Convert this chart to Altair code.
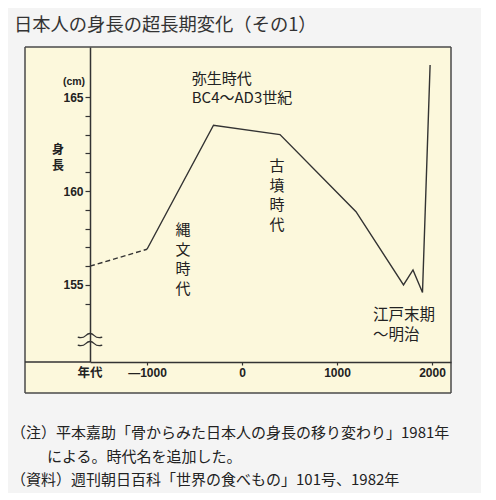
import altair as alt
import pandas as pd

# ---- data ----
years = [-1600, -1000, -300, 400, 1200, 1700, 1800, 1900, 1980]
heights = [156.0, 156.9, 163.5, 163.0, 158.9, 155.0, 155.8, 154.6, 166.7]
dashed_count = 2  # first segment (estimated part) is dashed

x_ticks = [-1000, 0, 1000, 2000]
y_ticks = list(range(154, 166))

title_text = "日本人の身長の超長期変化（その1）"
y_unit = "(cm)"
y_title = "身\n長"
x_title = "年代"
era_yayoi = "弥生時代\nBC4〜AD3世紀"
era_kofun = "古\n墳\n時\n代"
era_jomon = "縄\n文\n時\n代"
era_edo = "江戸末期\n〜明治"
note_lines = [
    "（注）平本嘉助「骨からみた日本人の身長の移り変わり」1981年",
    "による。時代名を追加した。",
    "（資料）週刊朝日百科「世界の食べもの」101号、1982年",
]

# ---- styling ----
CJK = "Noto Sans CJK JP"
NUM = "Liberation Sans"
INK = "#222222"
LINE = "#333333"
FRAME = "#4a4a4a"
W, H = 361, 315          # axes region
FL, FB = 65, 31          # panel extends this far left of / below the axes

xs = alt.Scale(domain=[-1600, 2200], nice=False, zero=False)
ys = alt.Scale(domain=[150.904, 167.66], nice=False, zero=False)

df_line = pd.DataFrame({"year": years, "height": heights})
df_dash = df_line.iloc[:dashed_count]
df_solid = df_line.iloc[dashed_count - 1:]

one = pd.DataFrame({"a": [0]})

x_axis = alt.Axis(
    values=x_ticks,
    labelExpr="datum.value < 0 ? '—' + format(-datum.value, 'd') : format(datum.value, 'd')",
    tickSize=3, tickWidth=1.2, tickColor=LINE,
    domainColor=LINE, domainWidth=1.5, grid=False, title=None,
    labelFont=NUM, labelFontWeight="bold", labelFontSize=12, labelColor=INK,
    labelPadding=2, labelFlush=False, zindex=2,
)
y_axis = alt.Axis(
    values=y_ticks,
    labelExpr="datum.value % 5 == 0 ? format(datum.value, 'd') : ''",
    domainColor=LINE, domainWidth=1.5, tickSize=5, tickWidth=1.2, tickColor=LINE,
    grid=False, title=None,
    labelFont=NUM, labelFontWeight="bold", labelFontSize=12, labelColor=INK,
    labelPadding=2, zindex=2,
)

# cream panel (extends left of and below the axes) with a border
panel = alt.Chart(one).mark_rect(color="#fcf8dc").encode(
    x=alt.value(-FL), x2=alt.value(W), y=alt.value(0), y2=alt.value(H + FB),
)
border = [
    alt.Chart(one).mark_rule(color=FRAME, strokeWidth=1.5).encode(
        x=alt.value(-FL), x2=alt.value(W), y=alt.value(0)),
    alt.Chart(one).mark_rule(color=FRAME, strokeWidth=1.5).encode(
        x=alt.value(-FL), x2=alt.value(W), y=alt.value(H + FB)),
    alt.Chart(one).mark_rule(color=FRAME, strokeWidth=1.5).encode(
        x=alt.value(-FL), y=alt.value(0), y2=alt.value(H + FB)),
    alt.Chart(one).mark_rule(color=FRAME, strokeWidth=1.5).encode(
        x=alt.value(W), y=alt.value(0), y2=alt.value(H + FB)),
]
# x axis line continues to the left edge of the panel
xline_ext = alt.Chart(one).mark_rule(color=LINE, strokeWidth=1.5).encode(
    x=alt.value(-FL), x2=alt.value(0), y=alt.value(H),
)

solid = alt.Chart(df_solid).mark_line(color=LINE, strokeWidth=1.4).encode(
    x=alt.X("year:Q", scale=xs, axis=x_axis),
    y=alt.Y("height:Q", scale=ys, axis=y_axis),
)
dashed = alt.Chart(df_dash).mark_line(color=LINE, strokeWidth=1.4, strokeDash=[5, 3]).encode(
    x=alt.X("year:Q", scale=xs, axis=x_axis),
    y=alt.Y("height:Q", scale=ys, axis=y_axis),
)

# axis break symbols
BREAK = "M -1 0.18 Q -0.6 0.3 -0.35 0.05 Q 0 -0.3 0.35 0.05 Q 0.6 0.3 1 0.18"
breaks = [
    alt.Chart(one).mark_point(shape=BREAK, filled=False, size=600, stroke=LINE,
                              strokeWidth=1.3, opacity=1).encode(
        x=alt.value(0), y=alt.value(py))
    for py in (288, 296)
]


def dtext(text, year, cm, size=15.5, align="left", lh=19.7, weight="normal"):
    # (year, cm) is the position of the first line
    return alt.Chart(one).mark_text(
        text=text, align=align, baseline="middle", font=CJK, fontSize=size,
        fontWeight=weight, color=INK, lineBreak="\n", lineHeight=lh,
    ).encode(
        x=alt.X(datum=year, scale=xs, axis=x_axis),
        y=alt.Y(datum=cm, scale=ys, axis=y_axis),
    )


def ptext(text, px, py, size, align="left", font=CJK, weight="normal", color=INK, lh=16):
    return alt.Chart(one).mark_text(
        text=text, align=align, baseline="middle", font=font, fontSize=size,
        fontWeight=weight, color=color, lineBreak="\n", lineHeight=lh,
    ).encode(x=alt.value(px), y=alt.value(py))


labels = [
    dtext(era_yayoi, -529, 165.98, size=15, lh=19),
    dtext(era_kofun, 368, 161.33, size=15, align="center"),
    dtext(era_jomon, -621, 157.93, size=15, align="center"),
    dtext(era_edo, 1379, 153.40, lh=20),
    ptext(y_unit, -16, 35, 10.5, align="center", font=NUM, weight="bold"),
    ptext(y_title, -32, 103, 12, align="center", weight="bold", lh=16),
    ptext(x_title, 0, 326, 12.5, align="center", weight="bold"),
    ptext(title_text, -76, -21, 18.3, color="#333333"),
    ptext(note_lines[0], -79, 386, 15),
    ptext(note_lines[1], -43, 410, 15),
    ptext(note_lines[2], -79, 433, 15),
]

chart = alt.layer(panel, *border, xline_ext, dashed, solid, *breaks, *labels).properties(
    width=W, height=H,
    autosize=alt.AutoSizeParams(type="none"),
    padding={"left": 82, "top": 39, "right": 30, "bottom": 131},
    background="#f4f4f4",
).configure_view(strokeWidth=0)

chart.save("out.html", embed_options={"renderer": "svg", "actions": False})
